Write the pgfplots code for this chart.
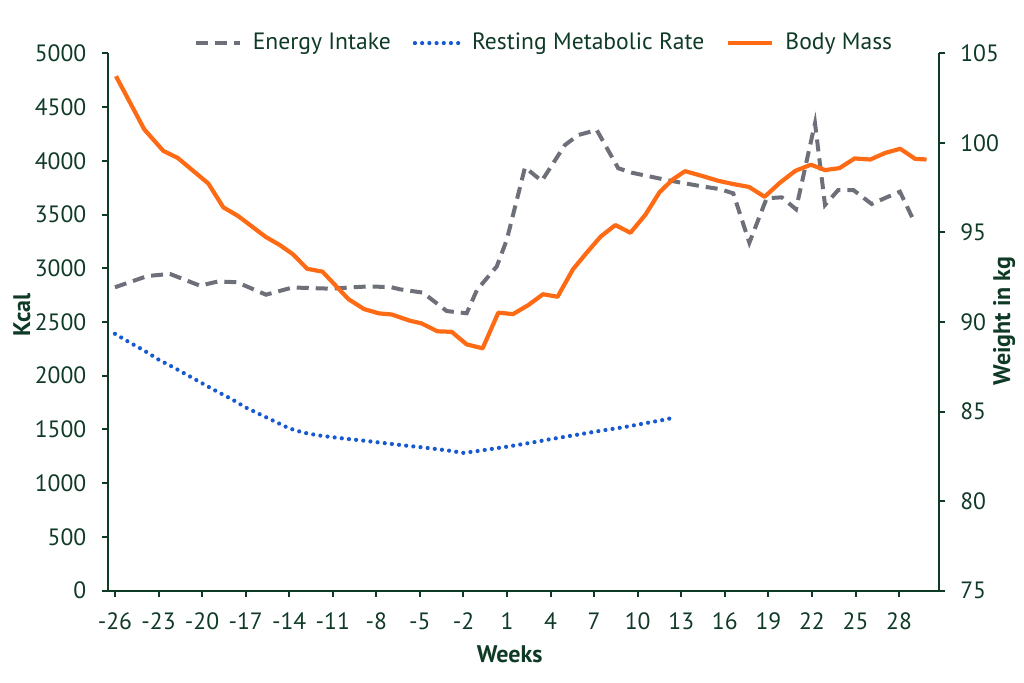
\documentclass[border=0pt]{standalone}
\usepackage{fontspec}
\setmainfont{PT Sans}
\usepackage{pgfplots}
\pgfplotsset{compat=1.18}
\usepackage{pgfplotstable}
\definecolor{dg}{HTML}{0F3A26}
\definecolor{bmorange}{HTML}{FF6B15}
\definecolor{eigray}{HTML}{6E7079}
\definecolor{rmrblue}{HTML}{1759D1}

\pgfplotstableread{
w kcal
-26.00 2823
-23.76 2928
-22.21 2947
-20.15 2838
-18.90 2877
-17.60 2870
-15.60 2754
-13.78 2821
-11.19 2810
-8.67 2830
-7.06 2826
-6.37 2804
-4.79 2773
-3.16 2602
-1.78 2581
-1.07 2798
0.29 3016
0.98 3263
2.24 3939
3.39 3812
4.99 4147
5.91 4240
7.18 4286
8.66 3930
9.59 3889
11.99 3821
14.29 3765
15.67 3736
16.58 3697
17.69 3238
18.88 3651
19.92 3660
20.90 3549
22.21 4349
22.90 3589
23.81 3728
24.85 3728
26.11 3598
27.15 3660
28.06 3712
29.10 3418
}\energy

\pgfplotstableread{
w kcal
-26 2390
-25 2310
-24 2235
-23 2150
-22 2080
-21 2005
-20 1930
-19 1855
-18 1785
-17 1705
-16 1640
-15 1575
-14 1510
-13 1470
-12 1445
-11 1428
-10 1412
-9 1398
-8 1382
-7 1366
-6 1350
-5 1336
-4 1320
-3 1303
-2 1282
-1 1300
0 1320
1 1340
2 1362
3 1385
4 1410
5 1432
6 1455
7 1478
8 1500
9 1520
10 1545
11 1570
12 1595
12.5 1612
}\rmr

\pgfplotstableread{
w kg
-25.93 103.72
-23.98 100.75
-22.67 99.55
-21.68 99.16
-19.57 97.73
-18.54 96.40
-17.51 95.91
-15.62 94.75
-14.64 94.29
-13.76 93.79
-12.76 92.97
-11.71 92.81
-9.93 91.28
-8.85 90.72
-7.82 90.48
-6.94 90.42
-5.73 90.08
-4.88 89.92
-3.80 89.48
-2.81 89.45
-1.78 88.75
-0.68 88.53
0.40 90.52
1.41 90.44
2.46 90.94
3.48 91.55
4.48 91.41
5.54 92.94
6.49 93.87
7.45 94.77
8.46 95.41
9.50 94.98
10.53 95.99
11.51 97.25
12.40 97.95
13.26 98.42
14.36 98.17
15.55 97.88
16.58 97.70
17.66 97.54
18.74 96.99
19.80 97.78
20.86 98.44
21.93 98.78
22.90 98.48
23.90 98.59
24.94 99.13
26.02 99.07
27.05 99.44
28.08 99.67
29.10 99.11
29.89 99.07
}\mass

\begin{document}
\begin{tikzpicture}
\useasboundingbox (-54.15pt,-46.15pt) rectangle (457.85pt,295.35pt);
\pgfplotsset{
  common/.style={
    scale only axis, width=415.5pt, height=268.7pt,
    xmin=-26.46, xmax=30.77,
    /pgf/number format/assume math mode=true,
    tick label style={font=\fontsize{11.8}{13}\selectfont, text=dg},
    label style={font=\bfseries\fontsize{12}{14}\selectfont, text=dg},
    axis line style={dg, line width=1pt},
    major tick style={dg, line width=1pt},
    major tick length=3pt, tick align=outside,
    clip=false,
  },
  eistyle/.style={eigray, line width=2pt, dash pattern=on 6pt off 3.5pt},
  rmrstyle/.style={rmrblue, line width=2.1pt, line cap=round, dash pattern=on 0pt off 3.6pt},
  bmstyle/.style={bmorange, line width=2.1pt, line join=round},
}
\begin{axis}[common,
  axis y line*=left, axis x line*=bottom,
  ymin=0, ymax=5000,
  ytick={0,500,...,5000},
  yticklabels={0,500,1000,1500,2000,2500,3000,3500,4000,4500,5000},
  xtick={-26,-23,...,28},
  xticklabels={-26,-23,-20,-17,-14,-11,-8,-5,-2,1,4,7,10,13,16,19,22,25,28},
  xticklabel style={yshift=-4.5pt},
  yticklabel style={xshift=-4.5pt},
  xlabel={Weeks},
  ylabel={Kcal},
  xlabel style={at={(axis description cs:0.483,-0.118)}, anchor=center},
  ylabel style={at={(axis description cs:-0.104,0.513)}, anchor=center},
]
\addplot[eistyle] table[x=w,y=kcal] {\energy};
\addplot[rmrstyle] table[x=w,y=kcal] {\rmr};
\end{axis}
\begin{axis}[common,
  axis y line*=right, axis x line=none,
  ymin=75, ymax=105,
  ytick={75,80,...,105},
  yticklabels={75,80,85,90,95,100,105},
  yticklabel style={xshift=4pt},
  ylabel={Weight in kg},
  ylabel style={at={(axis description cs:1.078,0.502)}, anchor=center},
  legend columns=3,
  legend style={at={(0.5243,1.019)}, anchor=center, draw=none, fill=none,
    font=\fontsize{11.8}{13}\selectfont, text=dg,
    /tikz/every odd column/.append style={column sep=4.5pt},
    /tikz/every even column/.append style={column sep=10pt},
    nodes={inner sep=1pt}},
  legend image code/.code={\draw[#1] (0pt,0pt) -- (22pt,0pt);},
]
\addlegendimage{eistyle}
\addlegendentry{Energy Intake}
\addlegendimage{rmrstyle}
\addlegendentry{Resting Metabolic Rate}
\addplot[bmstyle] table[x=w,y=kg] {\mass};
\addlegendentry{Body Mass}
\end{axis}
\end{tikzpicture}
\end{document}
